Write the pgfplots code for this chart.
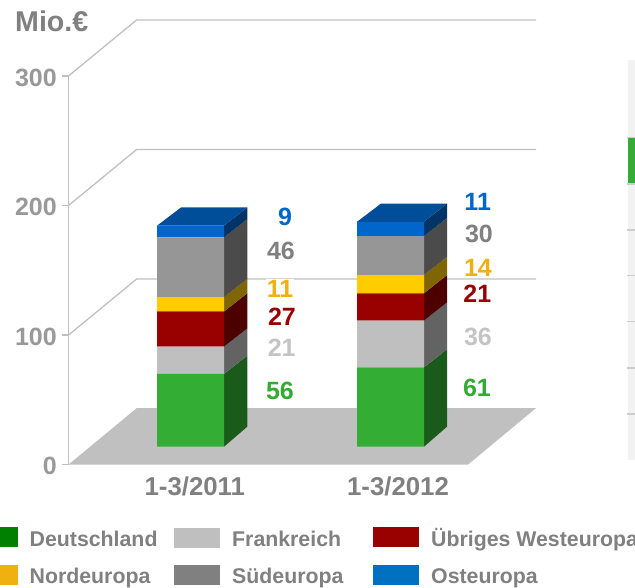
\documentclass[border=0pt]{standalone}
\usepackage{pgfplots}
\pgfplotsset{compat=1.18}
\usepackage{fontspec}
\setmainfont{Liberation Sans}
\definecolor{wall}{HTML}{C0C0C0}
\definecolor{txt}{HTML}{808080}
\definecolor{tickc}{HTML}{999999}
\definecolor{fG}{HTML}{33AD33}\definecolor{sG}{HTML}{1A5A1A}
\definecolor{fL}{HTML}{BFBFBF}\definecolor{sL}{HTML}{636363}
\definecolor{fR}{HTML}{990000}\definecolor{sR}{HTML}{4D0000}
\definecolor{fY}{HTML}{FFCC00}\definecolor{sY}{HTML}{806600}
\definecolor{fD}{HTML}{969696}\definecolor{sD}{HTML}{4B4B4B}
\definecolor{fB}{HTML}{0066CC}\definecolor{sB}{HTML}{003366}\definecolor{tB}{HTML}{004D99}
\definecolor{lG}{HTML}{008000}\definecolor{lY}{HTML}{F0B010}\definecolor{lD}{HTML}{808080}\definecolor{lB}{HTML}{0070C0}
\definecolor{vG}{HTML}{33AA33}\definecolor{vL}{HTML}{C4C4C4}\definecolor{vD}{HTML}{808080}
\newcommand\fs[1]{\fontsize{#1}{#1}\selectfont\bfseries}
% pixel -> picture position
\newcommand\val[4]{\node[text=#3,font=\fs{25},fill=white,inner sep=1pt,text height=17.9pt,text depth=0pt] at ({#1pt-68.5pt},{464.6pt-#2pt}) {#4};}
\newcommand\leg[3]{\node[text=txt,font=\fs{21.3},anchor=base west,inner sep=0pt] at ({#1pt-68.5pt},{464.6pt-#2pt}) {#3};}
\newcommand\swatch[5]{\fill[#5] ({#1pt-68.5pt},{464.6pt-#2pt}) rectangle ({#3pt-68.5pt},{464.6pt-#4pt});}
\pgfplotsset{
  bars/.style={scale only axis,width=566.5pt,height=426.7pt,at={(0pt,17.9pt)},anchor=south west,
    xmin=68.5,xmax=635,ymin=0,ymax=328.2,axis lines=none,clip=false},
  face/.style={fill=#1,draw=none,forget plot},
}
\begin{document}
\begin{tikzpicture}
\path[use as bounding box] (-68.5pt,-122.4pt) rectangle (566.5pt,464.6pt);
% axis with walls and floor; x in image units, y in Mio. EUR
\begin{axis}[scale only axis,width=566.5pt,height=388.6pt,at={(0pt,0pt)},anchor=south west,
  xmin=68.5,xmax=635,ymin=0,ymax=300,clip=false,
  axis y line*=left,axis x line*=bottom,
  y axis line style={draw=wall,line width=1.3pt,-},
  x axis line style={draw=none,-},
  ytick={0,100,200,300},
  tick align=outside,
  ytick style={draw=wall,line width=1.3pt},
  major tick length=6.5pt,
  yticklabel style={text=tickc,font=\fs{25},/pgf/number format/assume math mode=true,inner sep=0pt,xshift=-5pt,yshift=-1.5pt},
  xtick={194.8,398},xticklabels={1-3/2011,1-3/2012},
  xtick style={draw=none},
  xticklabel style={text=txt,font=\fs{25.8},inner sep=0pt,yshift=-5.5pt},
]
\addplot[fill=wall,draw=none] coordinates {(68.5,0)(136.7,43.6)(536,43.6)(468,0)} --cycle;
\addplot[wall,line width=1.3pt] coordinates {(68.5,100)(136.7,143.3)(536,143.3)};
\addplot[wall,line width=1.3pt] coordinates {(68.5,200)(136.7,243.3)(536,243.3)};
\addplot[wall,line width=1.3pt] coordinates {(68.5,300)(136.7,343.3)(536,343.3)};
\end{axis}
% side and top faces of the bars: cumulative values
\begin{axis}[bars]
\addplot[face=sG] coordinates {(224,0)(247.3,15.4)(247.3,70)(224,56)} --cycle;
\addplot[face=sL] coordinates {(224,56)(247.3,70)(247.3,91)(224,77)} --cycle;
\addplot[face=sR] coordinates {(224,77)(247.3,91)(247.3,118)(224,104)} --cycle;
\addplot[face=sY] coordinates {(224,104)(247.3,118)(247.3,129)(224,115)} --cycle;
\addplot[face=sD] coordinates {(224,115)(247.3,129)(247.3,175)(224,161)} --cycle;
\addplot[face=sB] coordinates {(224,161)(247.3,175)(247.3,184)(224,170)} --cycle;
\addplot[face=tB] coordinates {(157,170)(224,170)(247.3,184)(181,184)} --cycle;
\addplot[face=sG] coordinates {(424,0)(447,15.4)(447,75)(424,61)} --cycle;
\addplot[face=sL] coordinates {(424,61)(447,75)(447,111)(424,97)} --cycle;
\addplot[face=sR] coordinates {(424,97)(447,111)(447,132)(424,118)} --cycle;
\addplot[face=sY] coordinates {(424,118)(447,132)(447,146)(424,132)} --cycle;
\addplot[face=sD] coordinates {(424,132)(447,146)(447,176)(424,162)} --cycle;
\addplot[face=sB] coordinates {(424,162)(447,176)(447,187)(424,173)} --cycle;
\addplot[face=tB] coordinates {(357,173)(424,173)(447,187)(381,187)} --cycle;
\end{axis}
% front faces: stacked bars
\begin{axis}[bars,ybar stacked,bar width=67pt]
\addplot[fill=fG,draw=none] coordinates {(190.5,56)(390.5,61)};
\addplot[fill=fL,draw=none] coordinates {(190.5,21)(390.5,36)};
\addplot[fill=fR,draw=none] coordinates {(190.5,27)(390.5,21)};
\addplot[fill=fY,draw=none] coordinates {(190.5,11)(390.5,14)};
\addplot[fill=fD,draw=none] coordinates {(190.5,46)(390.5,30)};
\addplot[fill=fB,draw=none] coordinates {(190.5,9)(390.5,11)};
\end{axis}
% value labels
\val{285}{216.7}{fB}{9}
\val{281}{250.7}{vD}{46}
\val{280}{289}{lY}{11}
\val{282}{316.7}{fR}{27}
\val{281.7}{347.7}{vL}{21}
\val{280}{390.7}{vG}{56}
\val{477.7}{201.7}{fB}{11}
\val{479}{234}{vD}{30}
\val{478}{267.3}{lY}{14}
\val{477.3}{293.8}{fR}{21}
\val{478}{336.7}{vL}{36}
\val{477}{387.7}{vG}{61}
% title
\node[text=txt,font=\fs{28.6},anchor=base west,inner sep=0pt] at ({15pt-68.5pt},{464.6pt-31.7pt}) {Mio.€};
% legend
\swatch{0}{527}{18}{547}{lG}
\swatch{174}{528}{220}{548}{fL}
\swatch{373}{527}{419}{547}{fR}
\swatch{0}{565}{18}{585}{lY}
\swatch{174}{565}{220}{585}{lD}
\swatch{373}{565}{419}{585}{lB}
\leg{29.5}{546.7}{Deutschland}
\leg{232}{546.7}{Frankreich}
\leg{431}{546}{Übriges Westeuropa}
\leg{29.5}{583.3}{Nordeuropa}
\leg{232}{583.3}{Südeuropa}
\leg{431}{583.3}{Osteuropa}
% cropped neighbouring table at the right edge
\swatch{628}{60}{635}{460}{black!5}
\swatch{628}{138}{635}{183}{fG}
\foreach \yy in {137.5,184,230,275.7,321.7,367.7,414}{
  \fill[black!20] ({627pt-68.5pt},{464.6pt-\yy pt-0.8pt}) rectangle ({635pt-68.5pt},{464.6pt-\yy pt+0.8pt});
}
\end{tikzpicture}
\end{document}
